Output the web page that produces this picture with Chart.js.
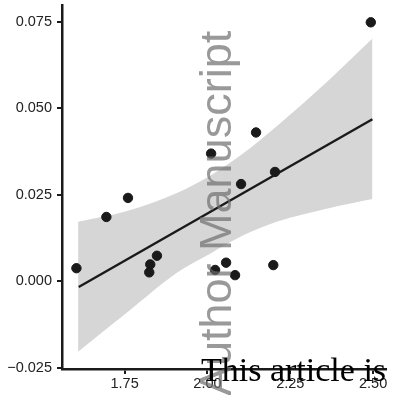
<!DOCTYPE html>
<html>
<head>
<meta charset="utf-8">
<script src="https://cdn.jsdelivr.net/npm/chart.js@4/dist/chart.umd.min.js"></script>
<style>
  html, body { margin: 0; padding: 0; background: #fff; }
  #wrap { width: 395px; height: 395px; }
</style>
</head>
<body>
<div id="wrap"><canvas id="chart" width="395" height="395"></canvas></div>
<script>
// observed points
const pointX = [1.6045, 1.6949, 1.7602, 1.8476, 1.8274, 1.8244, 2.0111, 2.1467, 2.1015, 2.2039, 2.0563, 2.0232, 2.0834, 2.1988, 2.4931];
const pointY = [0.0038, 0.0186, 0.0241, 0.0074, 0.0049, 0.0026, 0.0369, 0.0430, 0.0281, 0.0316, 0.0054, 0.0033, 0.0018, 0.0047, 0.0748];

// fitted line ends
const fitX = [1.6114, 2.4980];
const fitY = [-0.0016, 0.0468];

// confidence band edges
const bandX = [1.6096, 1.7572, 1.9078, 2.0081, 2.1084, 2.2090, 2.3596, 2.4980];
const bandUpper = [0.0172, 0.0203, 0.0255, 0.0305, 0.0370, 0.0448, 0.0575, 0.0701];
const bandLower = [-0.0203, -0.0090, 0.0025, 0.0080, 0.0133, 0.0172, 0.0210, 0.0238];

const xTickValues = [1.75, 2.00, 2.25, 2.50];
const xTickLabels = ['1.75', '2.00', '2.25', '2.50'];
const yTickValues = [-0.025, 0, 0.025, 0.05, 0.075];
const yTickLabels = ['\u22120.025', '0.000', '0.025', '0.050', '0.075'];

const watermark = 'Author Manuscript';
const footerText = 'This article is protected by copyright. All rights reserved';

const toXY = (xs, ys) => xs.map((x, i) => ({ x, y: ys[i] }));

const ink = '#1a1a1a';
const axisFont = { family: '"Liberation Sans", Arial, sans-serif', size: 14.5 };

function noEdgePadding(s) {
  s.paddingTop = 0;
  s.paddingBottom = 0;
  s.paddingLeft = 0;
  s.paddingRight = 0;
}

new Chart(document.getElementById('chart'), {
  type: 'scatter',
  data: {
    datasets: [
      {
        label: 'points',
        data: toXY(pointX, pointY),
        backgroundColor: ink,
        borderColor: ink,
        pointRadius: 4.7,
        pointHoverRadius: 4.7,
        order: 0
      },
      {
        label: 'fit',
        data: toXY(fitX, fitY),
        showLine: true,
        borderColor: ink,
        borderWidth: 2.4,
        pointRadius: 0,
        order: 1
      },
      {
        label: 'upper',
        data: toXY(bandX, bandUpper),
        showLine: true,
        borderWidth: 0,
        borderColor: 'rgba(0,0,0,0)',
        backgroundColor: '#d6d6d6',
        pointRadius: 0,
        cubicInterpolationMode: 'monotone',
        fill: '+1',
        order: 2
      },
      {
        label: 'lower',
        data: toXY(bandX, bandLower),
        showLine: true,
        borderWidth: 0,
        borderColor: 'rgba(0,0,0,0)',
        pointRadius: 0,
        cubicInterpolationMode: 'monotone',
        fill: false,
        order: 3
      }
    ]
  },
  options: {
    responsive: false,
    animation: false,
    layout: { padding: { top: 5, right: 9, left: 0, bottom: 0 } },
    plugins: { legend: { display: false }, tooltip: { enabled: false } },
    scales: {
      x: {
        type: 'linear',
        min: 1.561,
        max: 2.539,
        afterBuildTicks: (s) => { s.ticks = xTickValues.map((v) => ({ value: v })); },
        afterFit: (s) => { s.height = 26; noEdgePadding(s); },
        ticks: {
          color: '#222',
          font: axisFont,
          padding: 1,
          maxRotation: 0,
          callback: (v) => xTickLabels[xTickValues.indexOf(v)] ?? ''
        },
        grid: { drawOnChartArea: false, color: ink, lineWidth: 2, tickLength: 5 },
        border: { color: ink, width: 2.5 }
      },
      y: {
        type: 'linear',
        min: -0.0253,
        max: 0.0796,
        afterBuildTicks: (s) => { s.ticks = yTickValues.map((v) => ({ value: v })); },
        afterFit: (s) => { s.width = 62; noEdgePadding(s); },
        ticks: {
          color: '#222',
          font: axisFont,
          padding: 5,
          callback: (v) => yTickLabels[yTickValues.indexOf(v)] ?? ''
        },
        grid: { drawOnChartArea: false, color: ink, lineWidth: 2, tickLength: 5 },
        border: { color: ink, width: 2.5 }
      }
    }
  },
  plugins: [{
    id: 'overlayText',
    afterDraw(chart) {
      const c = chart.ctx;
      c.save();
      c.translate(231, 396);
      c.rotate(-Math.PI / 2);
      c.font = '45px "Liberation Sans", Arial, sans-serif';
      c.fillStyle = 'rgba(110,110,110,0.7)';
      c.textBaseline = 'alphabetic';
      c.textAlign = 'left';
      c.fillText(watermark, 0, 0);
      c.restore();

      c.save();
      c.font = '34px "Liberation Serif", "Times New Roman", serif';
      c.fillStyle = '#000';
      c.textBaseline = 'alphabetic';
      c.textAlign = 'left';
      c.fillText(footerText, 201, 381);
      c.restore();
    }
  }]
});
</script>
</body>
</html>
